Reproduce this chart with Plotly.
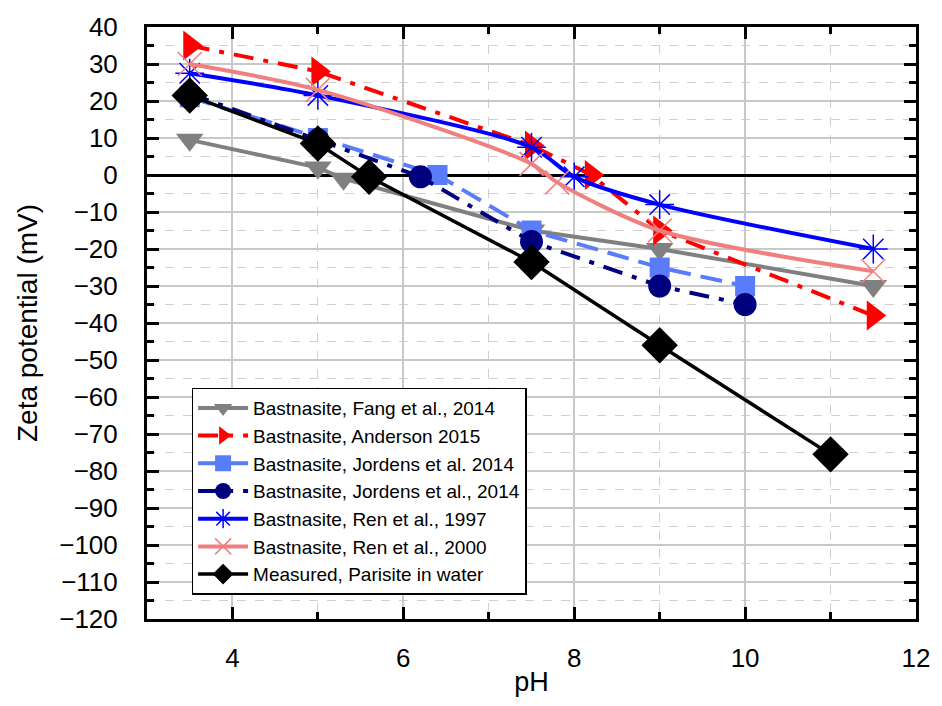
import plotly.graph_objects as go

# ---- data ----
fang_x = [3.5, 5.0, 5.3, 7.5, 9.0, 11.5]
fang_y = [9.5, 2, -1, -15, -20, -30]

anderson_x = [3.5, 5.0, 7.5, 8.2, 9.0, 11.5]
anderson_y = [35, 28, 8, 0, -15, -38]

jordens_sq_x = [3.5, 5.0, 6.4, 7.5, 9.0, 10.0]
jordens_sq_y = [21, 10, 0, -15, -25, -30]

jordens_ci_x = [3.5, 5.0, 6.2, 7.5, 9.0, 10.0]
jordens_ci_y = [22, 9.5, -0.5, -18, -30, -35]

ren97_x = [3.5, 5.0, 7.5, 8.0, 9.0, 11.5]
ren97_y = [27.5, 21.5, 7.5, -0.5, -8, -20]

ren00_x = [3.5, 5.0, 7.5, 7.8, 9.0, 11.5]
ren00_y = [30, 23, 3, -2, -15, -26]

meas_x = [3.5, 5.0, 5.6, 7.5, 9.0, 11.0]
meas_y = [21.5, 8.5, -0.5, -23.5, -46, -75.5]

names = [
    "Bastnasite, Fang et al., 2014",
    "Bastnasite, Anderson 2015",
    "Bastnasite, Jordens et al. 2014",
    "Bastnasite, Jordens et al., 2014",
    "Bastnasite, Ren et al., 1997",
    "Bastnasite, Ren et al., 2000",
    "Measured, Parisite in water",
]

FONT = "Liberation Sans, Arial"

fig = go.Figure()

fig.add_trace(go.Scatter(x=fang_x, y=fang_y, name=names[0], mode="lines+markers",
    line=dict(color="#808080", width=4),
    marker=dict(symbol="triangle-down", size=24, color="#808080")))
fig.add_trace(go.Scatter(x=anderson_x, y=anderson_y, name=names[1], mode="lines+markers",
    line=dict(color="#FF0000", width=4, dash="20px,10px,5px,10px"),
    marker=dict(symbol="triangle-right", size=26, color="#FF0000")))
fig.add_trace(go.Scatter(x=jordens_sq_x, y=jordens_sq_y, name=names[2], mode="lines+markers",
    line=dict(color="#5B7CFA", width=4, dash="22px,10px"),
    marker=dict(symbol="square", size=20, color="#5B7CFA")))
fig.add_trace(go.Scatter(x=jordens_ci_x, y=jordens_ci_y, name=names[3], mode="lines+markers",
    line=dict(color="#00007F", width=4, dash="20px,10px,5px,10px"),
    marker=dict(symbol="circle", size=23, color="#00007F")))
fig.add_trace(go.Scatter(x=ren97_x, y=ren97_y, name=names[4], mode="lines+markers",
    line=dict(color="#0000FF", width=4, shape="spline", smoothing=0.8),
    marker=dict(symbol="asterisk-open", size=24, color="#0000FF",
                line=dict(color="#0000FF", width=1.5))))
fig.add_trace(go.Scatter(x=ren00_x, y=ren00_y, name=names[5], mode="lines+markers",
    line=dict(color="#F08080", width=4, shape="spline", smoothing=0.8),
    marker=dict(symbol="x-thin-open", size=24, color="#F08080",
                line=dict(color="#F08080", width=1.5))))
fig.add_trace(go.Scatter(x=meas_x, y=meas_y, name=names[6], mode="lines+markers",
    line=dict(color="#000000", width=3.5),
    marker=dict(symbol="diamond", size=28, color="#000000")))

axis_common = dict(
    showline=True, linecolor="black", linewidth=3, mirror="ticks",
    ticks="inside", ticklen=12, tickwidth=3, tickcolor="black",
    showgrid=True, gridcolor="#C8C8C8", gridwidth=1.5,
    tickfont=dict(family=FONT, size=26, color="black"),
)

fig.update_xaxes(range=[3, 12], dtick=2, tick0=4,
    title_text="pH", title_standoff=0, ticklabelstandoff=14,
    title_font=dict(family=FONT, size=27, color="black"),
    minor=dict(dtick=1, ticks="inside", ticklen=7, tickwidth=3, tickcolor="black",
               showgrid=True, gridcolor="#D0D0D0", gridwidth=1, griddash="dash"),
    zeroline=False, **axis_common)
fig.update_yaxes(range=[-120, 40], dtick=10, tick0=0,
    title_text="Zeta potential (mV)", title_standoff=14, ticklabelstandoff=21,
    title_font=dict(family=FONT, size=28, color="black"),
    minor=dict(dtick=5, ticks="inside", ticklen=7, tickwidth=3, tickcolor="black",
               showgrid=True, gridcolor="#D0D0D0", gridwidth=1, griddash="dash"),
    zeroline=True, zerolinecolor="black", zerolinewidth=3, **axis_common)

fig.update_layout(
    width=942, height=706,
    margin=dict(l=147, r=21, t=25, b=87),
    plot_bgcolor="white", paper_bgcolor="white",
    font=dict(family=FONT, color="black"),
    showlegend=True,
    legend=dict(x=0.058, y=0.391, xanchor="left", yanchor="top",
                bgcolor="white", bordercolor="black", borderwidth=1.5,
                font=dict(family=FONT, size=19, color="black"),
                tracegroupgap=0, itemwidth=50),
)

fig.write_html("out.html")
